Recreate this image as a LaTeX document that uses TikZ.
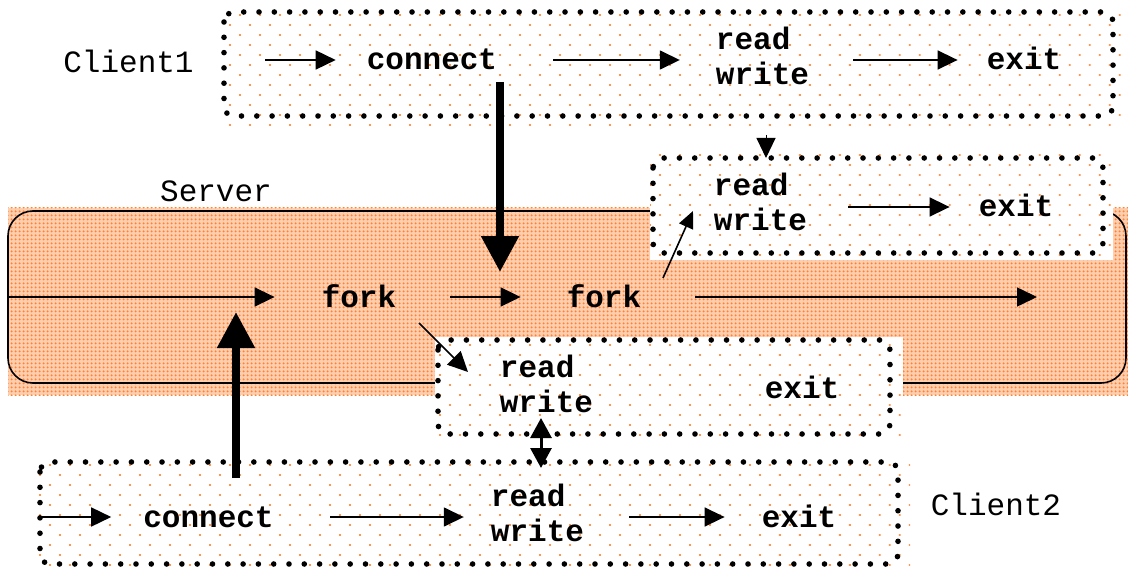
\documentclass[tikz,border=0pt]{standalone}
\usepackage{fontspec}
\newfontfamily\cour{Liberation Mono}
\usetikzlibrary{arrows.meta,patterns.meta,calc}
\definecolor{dotorange}{RGB}{255,130,50}
\definecolor{peach}{RGB}{255,206,174}

\begin{document}
\begin{tikzpicture}[x=1pt,y=-1pt,
  lbl/.style={font=\cour\bfseries\fontsize{31}{35}\selectfont, inner sep=0pt, text height=24pt, text depth=4pt},
  rw/.style={font=\cour\bfseries\fontsize{31}{35}\selectfont, inner sep=0pt, align=left},
  tag/.style={font=\cour\fontsize{31}{35}\selectfont, inner sep=0pt, text height=24pt, text depth=4pt},
  sparse/.style={fill=white, postaction={pattern={Dots[distance=14.14pt, angle=45, radius=1.25pt]}, pattern color=dotorange!85}},
  dense/.style={fill=peach, postaction={pattern={Dots[distance=4pt, radius=1.35pt]}, pattern color=dotorange}},
  dotline/.style={line width=5.6pt, line cap=round, dash pattern=on 0pt off 15.3pt, rounded corners=10pt},
  thin/.style={line width=1.6pt, -{Triangle[length=20pt,width=19pt]}},
  thick/.style={line width=8pt, -{Triangle[length=36pt,width=36pt]}},
  both/.style={line width=3pt, {Triangle[length=20pt,width=21pt]}-{Triangle[length=20pt,width=21pt]}}
]
\useasboundingbox (0,0) rectangle (1128,575);

% server process band
\path[dense] (8,208) rectangle (1128,395);
\draw[line width=1.6pt, rounded corners=25pt] (8,211) rectangle (1126,383);

% process panels: shaded background, then dotted outline
\path[sparse] (222,10) rectangle (1122,126);
\draw[dotline] (224,12) rectangle (1113,116);
\path[sparse] (650,155) rectangle (1113,260);
\draw[dotline] (653,158) rectangle (1103,253);
\path[sparse] (435,337) rectangle (903,442);
\draw[dotline] (438,340) rectangle (890,434);
\path[sparse] (38,459) rectangle (910,573);
\draw[dotline] (40,462) rectangle (898,564);

% labels
\node[tag] (client1) at (128.5,63) {Client1};
\node[tag] (server) at (216,191) {Server};
\node[tag] (client2) at (996,505) {Client2};

% client 1
\node[lbl] (connect1) at (432,60) {connect};
\node[rw] (rw1) at (762.5,55.5) {read\\write};
\node[lbl] (exit1) at (1024,60) {exit};
% server child for client 1
\node[rw] (rw2) at (760.5,202) {read\\write};
\node[lbl] (exit2) at (1016,207) {exit};
% server main loop
\node[lbl] (fork1) at (359,297) {fork};
\node[lbl] (fork2) at (604,297) {fork};
% server child for client 2
\node[rw] (rw3) at (546.5,383.5) {read\\write};
\node[lbl] (exit3) at (802,388) {exit};
% client 2
\node[lbl] (connect2) at (208.5,517) {connect};
\node[rw] (rw4) at (537.5,512.5) {read\\write};
\node[lbl] (exit4) at (799,517) {exit};

% free ends
\coordinate (c1in) at (265,60);
\coordinate (srvin) at (8,297);
\coordinate (srvout) at (1037,297);
\coordinate (c2in) at (40,517);
\coordinate (conn1a) at (500,82);
\coordinate (conn1b) at (500,272);
\coordinate (conn2a) at (236,478);
\coordinate (conn2b) at (236,312);
\coordinate (f2a) at (663,278);
\coordinate (f2b) at (693,211);
\coordinate (f1a) at (419,323);
\coordinate (f1b) at (468,372);
\coordinate (rwa) at (766,135);
\coordinate (rwb) at (766,158);
\coordinate (dxa) at (541,418);
\coordinate (dxb) at (541,468);

% client 1 flow
\draw[thin] (c1in) -- ([xshift=-31pt]connect1.west);
\draw[thin] ([xshift=56pt]connect1.east) -- ($(rw1.west |- connect1.west)+(-36,0)$);
\draw[thin] ($(rw1.east |- exit1.west)+(44,0)$) -- ([xshift=-29pt]exit1.west);
% child 1 flow
\draw[thin] ($(rw2.east |- exit2.west)+(41,0)$) -- ([xshift=-29pt]exit2.west);
% server flow
\draw[thin] (srvin) -- ([xshift=-47pt]fork1.west);
\draw[thin] ([xshift=54pt]fork1.east) -- ([xshift=-46pt]fork2.west);
\draw[thin] ([xshift=54pt]fork2.east) -- (srvout);
% client 2 flow
\draw[thin] (c2in) -- ([xshift=-32pt]connect2.west);
\draw[thin] ([xshift=56pt]connect2.east) -- ($(rw4.west |- connect2.west)+(-27,0)$);
\draw[thin] ($(rw4.east |- exit4.west)+(45,0)$) -- ([xshift=-37pt]exit4.west);

% forks spawning children
\draw[thin, -{Triangle[length=17pt,width=15pt]}] (f2a) -- (f2b);
\draw[thin] (f1a) -- (f1b);

% data exchange
\draw[thin, line width=1pt] (rwa) -- (rwb);
\draw[both] (dxa) -- (dxb);

% connection requests
\draw[thick] (conn1a) -- (conn1b);
\draw[thick] (conn2a) -- (conn2b);
\end{tikzpicture}
\end{document}
